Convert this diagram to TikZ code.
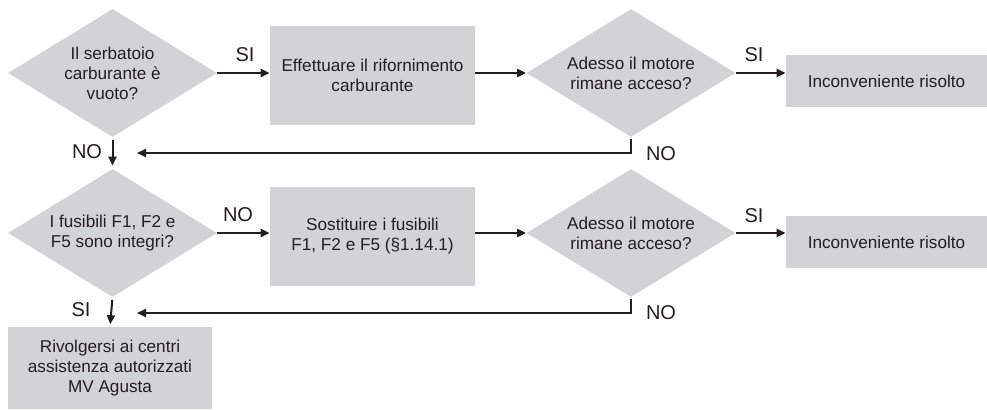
\documentclass[tikz,border=0pt]{standalone}
\usepackage{fontspec}
\setmainfont{Liberation Sans}
\usepackage{xcolor}
\usetikzlibrary{arrows.meta, positioning, shapes.geometric}
\definecolor{boxgray}{RGB}{210,211,213}
\definecolor{inkgray}{RGB}{35,31,32}

\begin{document}
\begin{tikzpicture}[x=0.6pt, y=-0.6pt,
  question/.style={diamond, fill=boxgray, inner sep=0pt, aspect=1.6,
    minimum width=125.4pt, minimum height=76.8pt, align=center,
    text=inkgray, font=\fontsize{10.3}{12}\selectfont},
  action/.style={rectangle, fill=boxgray, inner sep=0pt, align=center,
    text=inkgray, font=\fontsize{10.3}{12}\selectfont},
  answer/.style={inner sep=0pt, text=inkgray, font=\fontsize{12}{14}\selectfont},
  flow/.style={line width=1.2pt, draw=inkgray, -{Triangle[length=5.4pt, width=4.8pt]}}]
  \useasboundingbox (0,0) rectangle (987,410);

  \node[question] (tank) at (112.5,73) {Il serbatoio\\carburante è\\vuoto?};
  \node[action, minimum width=123pt, minimum height=59.4pt] (refuel) at (372.5,75.5) {Effettuare il rifornimento\\carburante};
  \node[question] (runs1) at (631,73) {Adesso il motore\\rimane acceso?};
  \node[action, minimum width=120.6pt, minimum height=31.2pt] (solved1) at (886.5,81) {Inconveniente risolto};

  \node[question] (fuses) at (112.5,233) {I fusibili F1, F2 e\\F5 sono integri?};
  \node[action, minimum width=123pt, minimum height=59.4pt] (replace) at (372.5,236.5) {Sostituire i fusibili\\F1, F2 e F5 (§1.14.1)};
  \node[question] (runs2) at (631,233) {Adesso il motore\\rimane acceso?};
  \node[action, minimum width=120.6pt, minimum height=31.2pt] (solved2) at (886.5,242) {Inconveniente risolto};

  \node[action, minimum width=122.4pt, minimum height=49.2pt] (dealer) at (110,368) {Rivolgersi ai centri\\assistenza autorizzati\\MV Agusta};

  \coordinate (back1) at (137,153);
  \coordinate (back2) at (137,313);

  \draw[flow] (tank.east) -- (refuel.west |- tank.east);
  \draw[flow] (refuel.east |- runs1.west) -- (runs1.west);
  \draw[flow] (runs1.east) -- (solved1.west |- runs1.east);
  \draw[flow] ([yshift=-1pt]runs1.south) |- (back1);
  \draw[flow, shorten <=1.5pt, shorten >=1.8pt] (tank.south) -- (fuses.north);

  \draw[flow] (fuses.east) -- (replace.west |- fuses.east);
  \draw[flow] (replace.east |- runs2.west) -- (runs2.west);
  \draw[flow] (runs2.east) -- (solved2.west |- runs2.east);
  \draw[flow] ([yshift=-1pt]runs2.south) |- (back2);
  \draw[flow, shorten <=1.5pt, shorten >=1.5pt] (fuses.south) -- (dealer.north);

  \node[answer] (si1) at (245,55) {SI};
  \node[answer] (no1) at (87,152) {NO};
  \node[answer] (si2) at (754,55) {SI};
  \node[answer] (no2) at (661,154) {NO};
  \node[answer] (no3) at (238,215) {NO};
  \node[answer] (si3) at (81,310) {SI};
  \node[answer] (si4) at (754,216) {SI};
  \node[answer] (no4) at (661,313) {NO};
\end{tikzpicture}
\end{document}
